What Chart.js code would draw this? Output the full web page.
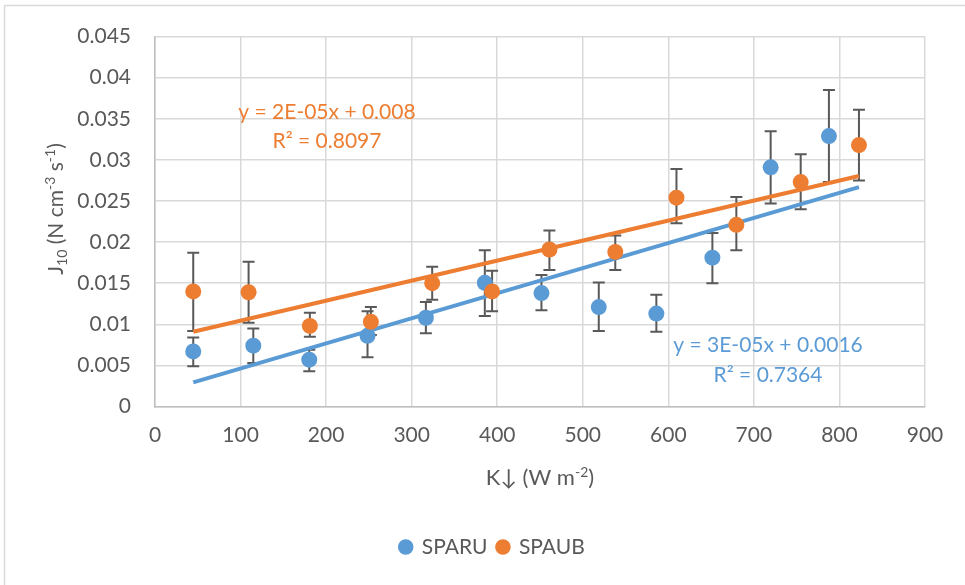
<!DOCTYPE html>
<html>
<head>
<meta charset="utf-8">
<script src="https://cdn.jsdelivr.net/npm/chart.js@4.4.0/dist/chart.umd.min.js"></script>
<style>
  html, body { margin: 0; padding: 0; background: #fff; }
</style>
</head>
<body>
<canvas id="chart" width="965" height="585"></canvas>
<script>
// values
const sparuX = [44.7, 114.9, 180.3, 248.4, 316.6, 385.5, 451.7, 518.7, 586, 651.5, 719.6, 787.7];
const sparuY = [0.0067, 0.0074, 0.0057, 0.0086, 0.0108, 0.01505, 0.0138, 0.0121, 0.0113, 0.0181, 0.0291, 0.0329];
const sparuHi = [0.0084, 0.0095, 0.0069, 0.0116, 0.0127, 0.019, 0.016, 0.0151, 0.0136, 0.0211, 0.0335, 0.0385];
const sparuLo = [0.0049, 0.0053, 0.0043, 0.006, 0.0089, 0.011, 0.0117, 0.0092, 0.0091, 0.015, 0.0247, 0.0273];

const spaubX = [44.7, 109.4, 181, 252.3, 324, 394, 461, 538, 609.5, 679.5, 754.7, 822.8];
const spaubY = [0.014, 0.0139, 0.0098, 0.0103, 0.015, 0.014, 0.0191, 0.0188, 0.0254, 0.0221, 0.0273, 0.0318];
const spaubHi = [0.0187, 0.0176, 0.0114, 0.0121, 0.017, 0.0165, 0.0214, 0.0208, 0.0289, 0.0255, 0.0307, 0.0361];
const spaubLo = [0.0092, 0.0102, 0.0085, 0.0087, 0.013, 0.0116, 0.0166, 0.0166, 0.0223, 0.019, 0.024, 0.0275];

// trendline end points (Excel linear trendlines)
const trendX = [44.7, 822.8];
const sparuTrend = [0.00294, 0.02668];
const spaubTrend = [0.0091, 0.02805];

const seriesNames = ['SPARU', 'SPAUB'];
const sparuLabel = ['y = 3E-05x + 0.0016', 'R² = 0.7364'];
const spaubLabel = ['y = 2E-05x + 0.008', 'R² = 0.8097'];

const BLUE = '#5b9bd5';
const ORANGE = '#ed7d31';
const GREY = '#595959';
const FONT = 'Lato, "Open Sans", sans-serif';

const toPoints = (xs, ys) => xs.map((x, i) => ({ x, y: ys[i] }));

const errorBarPlugin = {
  id: 'errorBars',
  beforeDatasetsDraw: (chart) => {
    const { x: xs, y: ys } = chart.scales;
    const ctx = chart.ctx;
    const bars = [
      [sparuX, sparuHi, sparuLo],
      [spaubX, spaubHi, spaubLo],
    ];
    ctx.save();
    ctx.strokeStyle = GREY;
    ctx.lineWidth = 2;
    bars.forEach(([xv, hi, lo]) => {
      xv.forEach((v, i) => {
        const px = xs.getPixelForValue(v);
        const top = ys.getPixelForValue(hi[i]);
        const bot = ys.getPixelForValue(lo[i]);
        ctx.beginPath();
        ctx.moveTo(px, top);
        ctx.lineTo(px, bot);
        ctx.moveTo(px - 6, top);
        ctx.lineTo(px + 6, top);
        ctx.moveTo(px - 6, bot);
        ctx.lineTo(px + 6, bot);
        ctx.stroke();
      });
    });
    ctx.restore();
  },
};

// draws text pieces: [text, 'n' | 'sub' | 'sup'] starting at x on baseline y
const drawRich = (ctx, parts, x, y, size) => {
  parts.forEach(([t, kind]) => {
    const s = kind === 'n' ? size : Math.round(size * 0.65);
    const dy = kind === 'sup' ? -size * 0.38 : kind === 'sub' ? size * 0.2 : 0;
    ctx.font = `${s}px ${FONT}`;
    ctx.fillText(t, x, y + dy);
    x += ctx.measureText(t).width;
  });
};
const richWidth = (ctx, parts, size) => {
  let w = 0;
  parts.forEach(([t, kind]) => {
    const s = kind === 'n' ? size : Math.round(size * 0.65);
    ctx.font = `${s}px ${FONT}`;
    w += ctx.measureText(t).width;
  });
  return w;
};

const textPlugin = {
  id: 'extraText',
  beforeDraw: (chart) => {
    const ctx = chart.ctx;
    ctx.save();
    ctx.fillStyle = '#fff';
    ctx.fillRect(0, 0, chart.width, chart.height);
    ctx.strokeStyle = '#d9d9d9';
    ctx.lineWidth = 1.5;
    ctx.strokeRect(4.5, 5.5, chart.width + 10, chart.height + 10);
    ctx.restore();
  },
  afterDraw: (chart) => {
    const { x: xs, y: ys } = chart.scales;
    const ctx = chart.ctx;
    ctx.save();
    ctx.textBaseline = 'alphabetic';
    ctx.textAlign = 'left';

    // axis titles
    ctx.fillStyle = GREY;
    const xTitle = [['K↓ (W m', 'n'], ['-2', 'sup'], [')', 'n']];
    const xw = richWidth(ctx, xTitle, 22);
    drawRich(ctx, xTitle, (xs.left + xs.right) / 2 - xw / 2, 485, 22);

    const yTitle = [['J', 'n'], ['10', 'sub'], [' (N cm', 'n'], ['-3', 'sup'], [' s', 'n'], ['-1', 'sup'], [')', 'n']];
    const yw = richWidth(ctx, yTitle, 21);
    ctx.save();
    ctx.translate(63, 209);
    ctx.rotate(-Math.PI / 2);
    drawRich(ctx, yTitle, -yw / 2, 0, 21);
    ctx.restore();

    // trendline equations
    ctx.textAlign = 'center';
    ctx.font = `21px ${FONT}`;
    ctx.fillStyle = ORANGE;
    ctx.fillText(spaubLabel[0], xs.getPixelForValue(201), ys.getPixelForValue(0.03502));
    ctx.fillText(spaubLabel[1], xs.getPixelForValue(201), ys.getPixelForValue(0.03143));
    ctx.fillStyle = BLUE;
    ctx.fillText(sparuLabel[0], xs.getPixelForValue(716.5), ys.getPixelForValue(0.00659));
    ctx.fillText(sparuLabel[1], xs.getPixelForValue(716.5), ys.getPixelForValue(0.00296));
    ctx.restore();
  },
};

new Chart(document.getElementById('chart').getContext('2d'), {
  type: 'scatter',
  data: {
    datasets: [
      {
        label: seriesNames[0],
        data: toPoints(sparuX, sparuY),
        backgroundColor: BLUE,
        borderColor: BLUE,
        borderWidth: 0,
        pointRadius: 8,
        order: 1,
      },
      {
        label: seriesNames[1],
        data: toPoints(spaubX, spaubY),
        backgroundColor: ORANGE,
        borderColor: ORANGE,
        borderWidth: 0,
        pointRadius: 8,
        order: 0,
      },
      {
        label: 'trend1',
        data: toPoints(trendX, sparuTrend),
        showLine: true,
        borderColor: BLUE,
        borderWidth: 4,
        pointRadius: 0,
        order: 2,
      },
      {
        label: 'trend2',
        data: toPoints(trendX, spaubTrend),
        showLine: true,
        borderColor: ORANGE,
        borderWidth: 4,
        pointRadius: 0,
        order: 3,
      },
    ],
  },
  plugins: [errorBarPlugin, textPlugin],
  options: {
    responsive: false,
    animation: false,
    layout: { padding: { left: 60, top: 34, right: 40, bottom: 17.5 } },
    scales: {
      x: {
        type: 'linear',
        min: 0,
        max: 900,
        ticks: { stepSize: 100, color: GREY, font: { family: FONT, size: 21 }, padding: 16 },
        grid: { color: '#d9d9d9', lineWidth: 1.5, drawTicks: false },
        border: { color: '#bfbfbf', width: 1.5 },
        afterFit: (s) => { s.height = 120; },
      },
      y: {
        min: 0,
        max: 0.045,
        ticks: {
          stepSize: 0.005,
          color: GREY,
          font: { family: FONT, size: 21 },
          padding: 24,
          callback: (v) => `${parseFloat(v.toFixed(3))}`,
        },
        grid: { color: '#d9d9d9', lineWidth: 1.5, drawTicks: false },
        border: { color: '#bfbfbf', width: 1.5 },
        afterFit: (s) => { s.width = 95; },
      },
    },
    plugins: {
      tooltip: { enabled: false },
      legend: {
        position: 'bottom',
        labels: {
          usePointStyle: true,
          pointStyle: 'circle',
          boxWidth: 11,
          boxHeight: 11,
          color: GREY,
          font: { family: FONT, size: 21 },
          filter: (item) => seriesNames.includes(item.text),
          sort: (a, b) => a.datasetIndex - b.datasetIndex,
        },
      },
    },
  },
});
</script>
</body>
</html>
